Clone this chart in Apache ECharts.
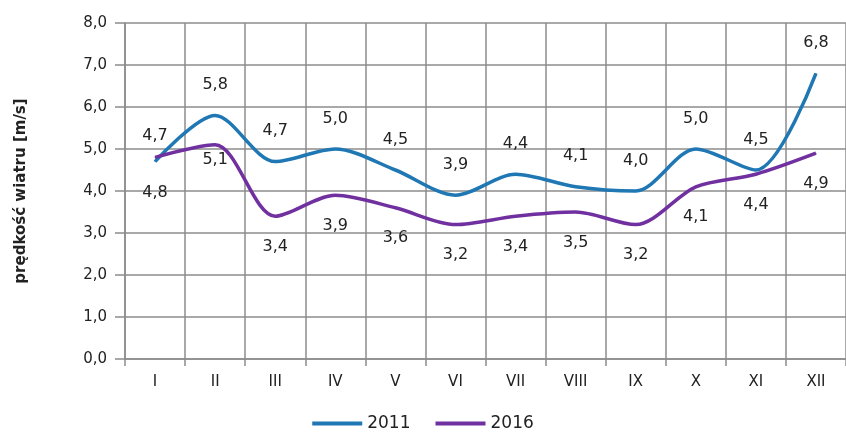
<!DOCTYPE html>
<html><head><meta charset="utf-8">
<script src="https://cdn.jsdelivr.net/npm/echarts@6/dist/echarts.min.js"></script>
<style>html,body{margin:0;padding:0;background:#fff}#c{width:846px;height:437px}</style>
</head><body><div id="c"></div>
<script>
const months = ['I','II','III','IV','V','VI','VII','VIII','IX','X','XI','XII'];
const values2011 = [4.7,5.8,4.7,5.0,4.5,3.9,4.4,4.1,4.0,5.0,4.5,6.8];
const values2016 = [4.8,5.1,3.4,3.9,3.6,3.2,3.4,3.5,3.2,4.1,4.4,4.9];
const seriesNames = ['2011','2016'];
const fmt = v => v.toFixed(1).replace('.', ',');
const chart = echarts.init(document.getElementById('c'));
const font = 'DejaVu Sans';
chart.setOption({
  animation:false,
  textStyle:{fontFamily:font},
  grid:{left:125,right:-11,top:23,bottom:78},
  legend:{bottom:0,left:'center',itemWidth:50,itemHeight:4,itemGap:25,
    icon:'rect',
    textStyle:{fontFamily:font,fontSize:17,color:'#222'},
    data:seriesNames},
  xAxis:{type:'category',data:months,boundaryGap:true,
    axisLine:{lineStyle:{color:'#8c8c8c',width:1.5}},
    axisTick:{show:true,length:7,lineStyle:{color:'#8c8c8c',width:1.5}},
    splitLine:{show:true,lineStyle:{color:'#8c8c8c',width:1.5}},
    axisLabel:{color:'#222',fontSize:15,margin:16,fontFamily:font}},
  yAxis:{type:'value',min:0,max:8,interval:1,
    name:'prędkość wiatru [m/s]',nameLocation:'middle',nameGap:96,
    nameTextStyle:{fontFamily:font,fontSize:15,fontWeight:'bold',color:'#222'},
    axisLine:{show:true,lineStyle:{color:'#8c8c8c',width:1.5}},
    axisTick:{show:true,length:10,lineStyle:{color:'#8c8c8c',width:1.5}},
    splitLine:{show:true,lineStyle:{color:'#8c8c8c',width:1.5}},
    axisLabel:{color:'#222',fontSize:15,margin:18,formatter:v=>fmt(v),fontFamily:font}},
  series:[
    {name:seriesNames[0],type:'line',smooth:0.3,data:values2011,symbol:'circle',symbolSize:1,showSymbol:true,
     lineStyle:{color:'#1f77b4',width:3.5},itemStyle:{color:'#1f77b4'},
     labelLayout:p=>p.dataIndex===0?{dy:5}:{},
     label:{show:true,position:'top',distance:22,fontSize:16,color:'#222',fontFamily:font,formatter:p=>fmt(p.value)}},
    {name:seriesNames[1],type:'line',smooth:0.3,data:values2016,symbol:'circle',symbolSize:1,showSymbol:true,
     lineStyle:{color:'#7030a0',width:3.5},itemStyle:{color:'#7030a0'},
     labelLayout:p=>p.dataIndex===1?{dy:-15}:(p.dataIndex===0?{dy:5}:{}),
     label:{show:true,position:'bottom',distance:22,fontSize:16,color:'#222',fontFamily:font,formatter:p=>fmt(p.value)}}
  ]
});
</script></body></html>
